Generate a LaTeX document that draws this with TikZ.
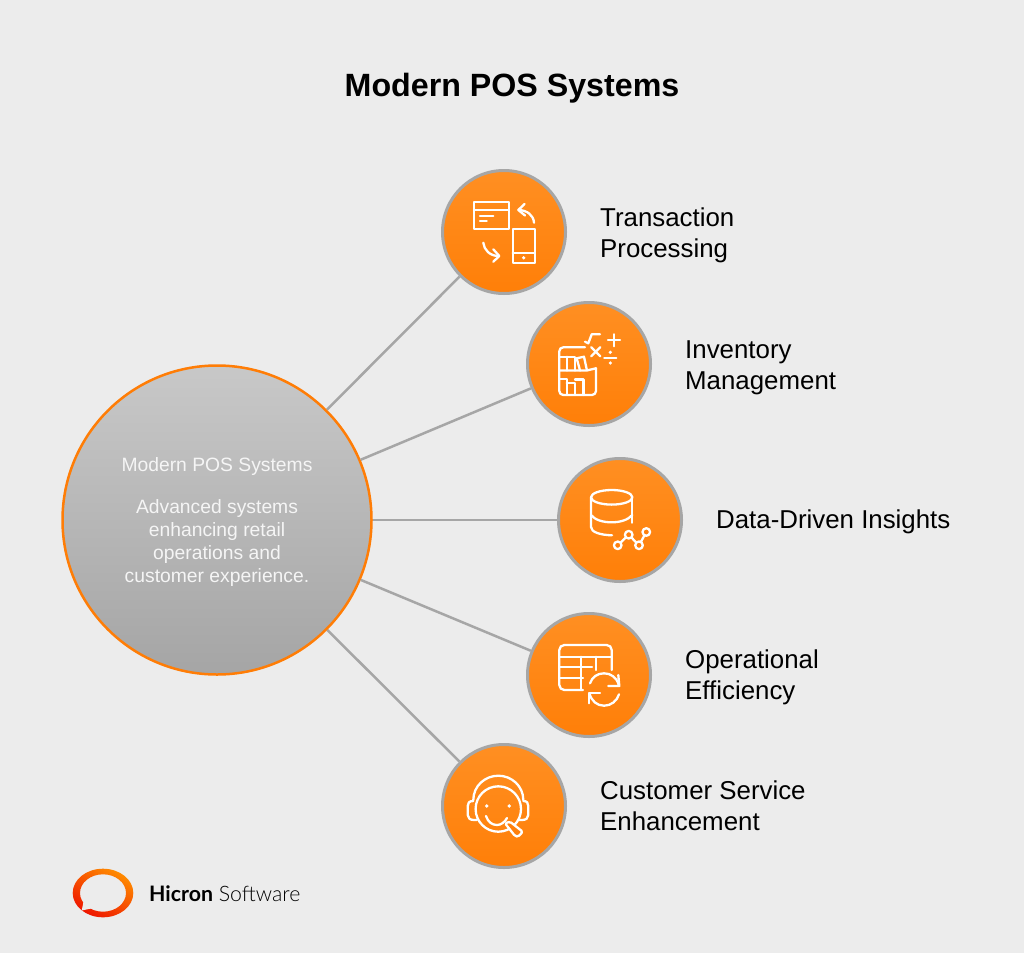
\documentclass[tikz,border=0pt]{standalone}
\usepackage{fontspec}
\usepackage{tikz}
\usetikzlibrary{positioning}
\setmainfont{Liberation Sans}
\newfontfamily\logobold{Lato Bold}
\newfontfamily\logolight{Lato Light}
\definecolor{pagebg}{HTML}{ECECEC}
\definecolor{ringgray}{HTML}{A6A6A6}
\definecolor{hubtop}{HTML}{C8C8C8}
\definecolor{hubbottom}{HTML}{A5A5A5}
\definecolor{spoketop}{HTML}{FF8F22}
\definecolor{spokebottom}{HTML}{FF7F08}
\definecolor{spokemid}{HTML}{FF800C}
\definecolor{hubring}{HTML}{FF7D06}
\definecolor{logotop}{HTML}{FF8C00}
\definecolor{logobottom}{HTML}{EE1500}
\tikzset{
	hub/.style={circle, draw=hubring, line width=2.5pt, top color=hubtop, bottom color=hubbottom, minimum size=309pt, inner sep=0pt},
	hubtext/.style={text=white!96!black, align=center, inner sep=0pt, font=\fontsize{19.3}{23}\selectfont},
	spoke/.style={circle, draw=ringgray, line width=3pt, top color=spoketop, bottom color=spokebottom, minimum size=123pt, inner sep=0pt},
	itemlabel/.style={anchor=west, align=left, inner sep=0pt, font=\fontsize{25.85}{31}\selectfont},
	link/.style={draw=ringgray, line width=2.5pt},
	icon/.style={draw=white, line width=2.3pt, line cap=round, line join=round}
}

\begin{document}
\begin{tikzpicture}[x=1pt,y=-1pt]
	\useasboundingbox (0,0) rectangle (1024,953);
	\fill[pagebg] (0,0) rectangle (1024,953);

	\node (title) at (512,88) {\fontsize{32.2}{38}\selectfont\bfseries Modern POS Systems};

	\node (center) [hub] at (217,520) {};
	\node (centerT) [hubtext] at (217,522) {Modern POS Systems\\[19pt]Advanced systems\\enhancing retail\\operations and\\customer experience.};

	\node (trans) [spoke] at (504,232) {};
	\node (inv) [spoke] at (589,364) {};
	\node (data) [spoke] at (620,520) {};
	\node (oper) [spoke] at (589,675) {};
	\node (cust) [spoke] at (504,806) {};

	\node (transT) [itemlabel] at (600,235) {Transaction\\Processing};
	\node (invT) [itemlabel] at (685,367.5) {Inventory\\Management};
	\node (dataT) [itemlabel] at (716,522) {Data-Driven Insights};
	\node (operT) [itemlabel] at (685,677) {Operational\\Efficiency};
	\node (custT) [itemlabel] at (600,806) {Customer Service\\Enhancement};

	\draw [link] (center) to (trans);
	\draw [link] (center) to (inv);
	\draw [link] (center) to (data);
	\draw [link] (center) to (oper);
	\draw [link] (center) to (cust);

	% card and phone
	\draw [icon] (474,202.3) rectangle (508.7,229);
	\draw [icon] (474,210) -- (508.7,210);
	\draw [icon] (480,216) -- (493.3,216);
	\draw [icon] (480,221.3) -- (486.7,221.3);
	\draw [icon] (512.7,229) rectangle (534.7,262.7);
	\draw [icon] (512.7,253.3) -- (534.7,253.3);
	\fill [white] (523.7,257.8) circle [radius=1.8];
	\draw [icon] (534,222.7) .. controls (533.5,215) and (527,210.5) .. (519,210);
	\draw [icon] (524.5,204) -- (518.3,210) -- (525,215.5);
	\draw [icon] (483.3,242.7) .. controls (484,250) and (490,256) .. (498.5,256);
	\draw [icon] (493.3,249.3) -- (499.3,256) -- (493.3,261.7);

	% shelf and math signs
	\draw [icon, rounded corners=4pt] (585,347.3) -- (559.3,347.3) -- (559.3,395) -- (596,395) -- (596,368.3);
	\draw [icon] (559.3,370.5) -- (586.7,370.5) -- (596,368.3);
	\draw [icon] (559.3,356.7) -- (575,356.7) -- (575,370.5);
	\draw [icon] (566.7,356.7) -- (566.7,370.5);
	\draw [icon] (576.7,358.3) -- (584,356.7) -- (586.7,369.3);
	\draw [icon] (576.7,358.3) -- (580,370.5);
	\draw [icon] (559.3,379) -- (566.7,379) -- (566.7,395);
	\draw [icon] (566.7,383) -- (575,383) -- (575,395);
	\draw [icon] (575,379.5) -- (583.5,379.5) -- (583.5,395);
	\draw [icon] (585,341.7) -- (588.3,343.3) -- (591.7,334.3) -- (600,334.3);
	\draw [icon] (591.2,347.2) -- (600.2,356.2);
	\draw [icon] (591.2,356.2) -- (600.2,347.2);
	\draw [icon] (608,340.3) -- (620,340.3);
	\draw [icon] (614,334.3) -- (614,346.3);
	\draw [icon] (604.3,357.7) -- (616.3,357.7);
	\fill [white] (610.3,352.3) circle [radius=1.8];
	\fill [white] (610.3,363) circle [radius=1.8];

	% database and trend
	\draw [icon] (611.7,497.3) ellipse [x radius=20.7, y radius=7.3];
	\draw [icon] (591,497.3) -- (591,527) .. controls (591,532) and (600,535) .. (612,535.3);
	\draw [icon] (632.3,497.3) -- (632.3,522.7);
	\draw [icon] (591,515) .. controls (595,520) and (603,522.3) .. (611.7,522.3) .. controls (620,522.3) and (628,520) .. (632.3,515);
	\draw [icon] (617.7,545.3) -- (628.7,534.7) -- (639,545.3) -- (646.3,532);
	\draw [icon, fill=spokemid] (617.7,545.3) circle [radius=3.8];
	\draw [icon, fill=spokemid] (628.7,534.7) circle [radius=3.8];
	\draw [icon, fill=spokemid] (639,545.3) circle [radius=3.8];
	\draw [icon, fill=spokemid] (646.3,532) circle [radius=3.8];

	% table and sync
	\draw [icon, rounded corners=5pt] (611.7,670) -- (611.7,645) -- (559.3,645) -- (559.3,690) -- (583,690);
	\draw [icon] (559.3,656.7) -- (611.7,656.7);
	\draw [icon] (559.3,667.3) -- (592,667.3);
	\draw [icon] (559.3,678.3) -- (583,678.3);
	\draw [icon] (580.7,656.7) -- (580.7,690);
	\draw [icon] (595.7,656.7) -- (595.7,670);
	\draw [icon] (590,683.3) .. controls (592,677) and (597.5,673.3) .. (604,673.3) .. controls (610.5,673.3) and (616.5,677) .. (618.8,685);
	\draw [icon] (618.3,675) -- (619.3,686) -- (608.3,686);
	\draw [icon] (619,694.3) .. controls (617,701) and (611,705.7) .. (604,705.7) .. controls (597,705.7) and (591.5,701) .. (589.5,693.5);
	\draw [icon] (589.3,703.3) -- (589.3,693.3) -- (600,693.3);

	% headset
	\draw [icon] (498.3,809) circle [radius=22.7];
	\draw [icon] (473.3,800) .. controls (473.3,786) and (485,775.7) .. (498.3,775.7) .. controls (511.6,775.7) and (523.3,786) .. (523.3,800);
	\draw [icon] (473.3,801) .. controls (469,801) and (467.7,803) .. (467.7,806) -- (467.7,815) .. controls (467.7,818) and (470,820) .. (474,820) -- (477,820);
	\draw [icon] (523.3,801) .. controls (527,801) and (528.3,803) .. (528.3,806) -- (528.3,815) .. controls (528.3,818) and (526,820) .. (522,820) -- (518,820);
	\fill [white] (486.7,806) circle [radius=1.9];
	\fill [white] (509.3,806) circle [radius=1.9];
	\draw [icon] (486,816) .. controls (488,822) and (492,825) .. (497,825) .. controls (501,825) and (505,822) .. (507,818);
	\draw [icon, fill=spokemid, rounded corners=1.5pt] (505,823.3) -- (515,836) -- (518.3,836.7) -- (522.7,831.7) -- (510,821.7) -- cycle;

	% logo
	\shade [even odd rule, top color=logotop, bottom color=logobottom, shading angle=-30] (103,893) ellipse [x radius=30.3, y radius=24.3] (103,893) ellipse [x radius=23, y radius=18.7];
	\fill [pagebg] (83.5,902) -- (81.7,910.5) -- (91,908.5) -- cycle;
	\node (logoT) [anchor=west, inner sep=0pt] at (149,894) {\fontsize{21.3}{26}\selectfont{\logobold Hicron} {\logolight Software}};
\end{tikzpicture}
\end{document}
